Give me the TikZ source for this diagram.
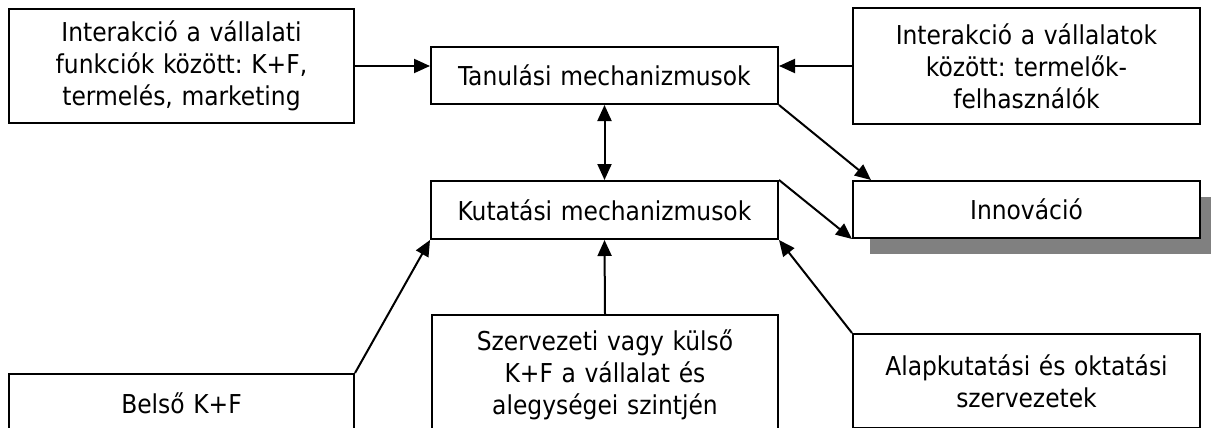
\documentclass[tikz,border=0pt]{standalone}
\usepackage{fontspec}
\setmainfont{DejaVu Sans Condensed}
\usetikzlibrary{arrows.meta,shadows}
\frenchspacing

\begin{document}
\begin{tikzpicture}[x=1pt, y=-1pt,
  mechbox/.style={draw=black, line width=2pt, inner sep=0pt,
    minimum width=347pt, text width=340pt, align=center,
    font=\fontsize{26}{32}\selectfont},
  mecharrow/.style={-{Triangle[length=16pt, width=14pt]}, line width=2pt},
  bothways/.style={{Triangle[length=16pt, width=14pt]}-{Triangle[length=16pt, width=14pt]}, line width=2pt}
]
\useasboundingbox (0,0) rectangle (1211,428);
\node[mechbox, minimum width=345pt, minimum height=114pt] (funcs) at (181.5,66) {Interakció a vállalati\\funkciók között: K+F,\\termelés, marketing};
\node[mechbox, minimum height=57pt] (learn) at (604.5,75.5) {Tanulási mechanizmusok};
\node[mechbox, minimum height=116pt] (firms) at (1026.5,66) {Interakció a vállalatok\\között: termelők-\\felhasználók};
\node[mechbox, minimum height=58pt] (research) at (604.5,210) {Kutatási mechanizmusok};
\node[mechbox, minimum height=57pt, fill=white,
  general shadow={fill=black!50, shadow xshift=17pt, shadow yshift=-16pt}] (innov) at (1026.5,209.5) {Innováció};
\node[mechbox, minimum width=345pt, minimum height=58pt] (internal) at (181.5,403) {Belső K+F};
\node[mechbox, minimum width=346pt, minimum height=120pt] (org) at (605,375) {Szervezeti vagy külső\\K+F a vállalat és\\alegységei szintjén};
\node[mechbox, minimum height=94pt] (basic) at (1026.5,381) {Alapkutatási és oktatási\\szervezetek};
\draw[mecharrow] (funcs.east) -- (learn.west |- funcs.east);
\draw[mecharrow] (firms.west) -- (learn.east |- firms.west);
\draw[bothways] (learn.south) -- (research.north);
\draw[mecharrow] (learn.south east) -- ([xshift=19pt]innov.north west);
\draw[mecharrow] (research.north east) -- (innov.south west);
\foreach \a/\b in {internal.north east/research.south west,org.north/research.south,basic.north west/research.south east}
  \draw[mecharrow] (\a) -- (\b);
\end{tikzpicture}
\end{document}
